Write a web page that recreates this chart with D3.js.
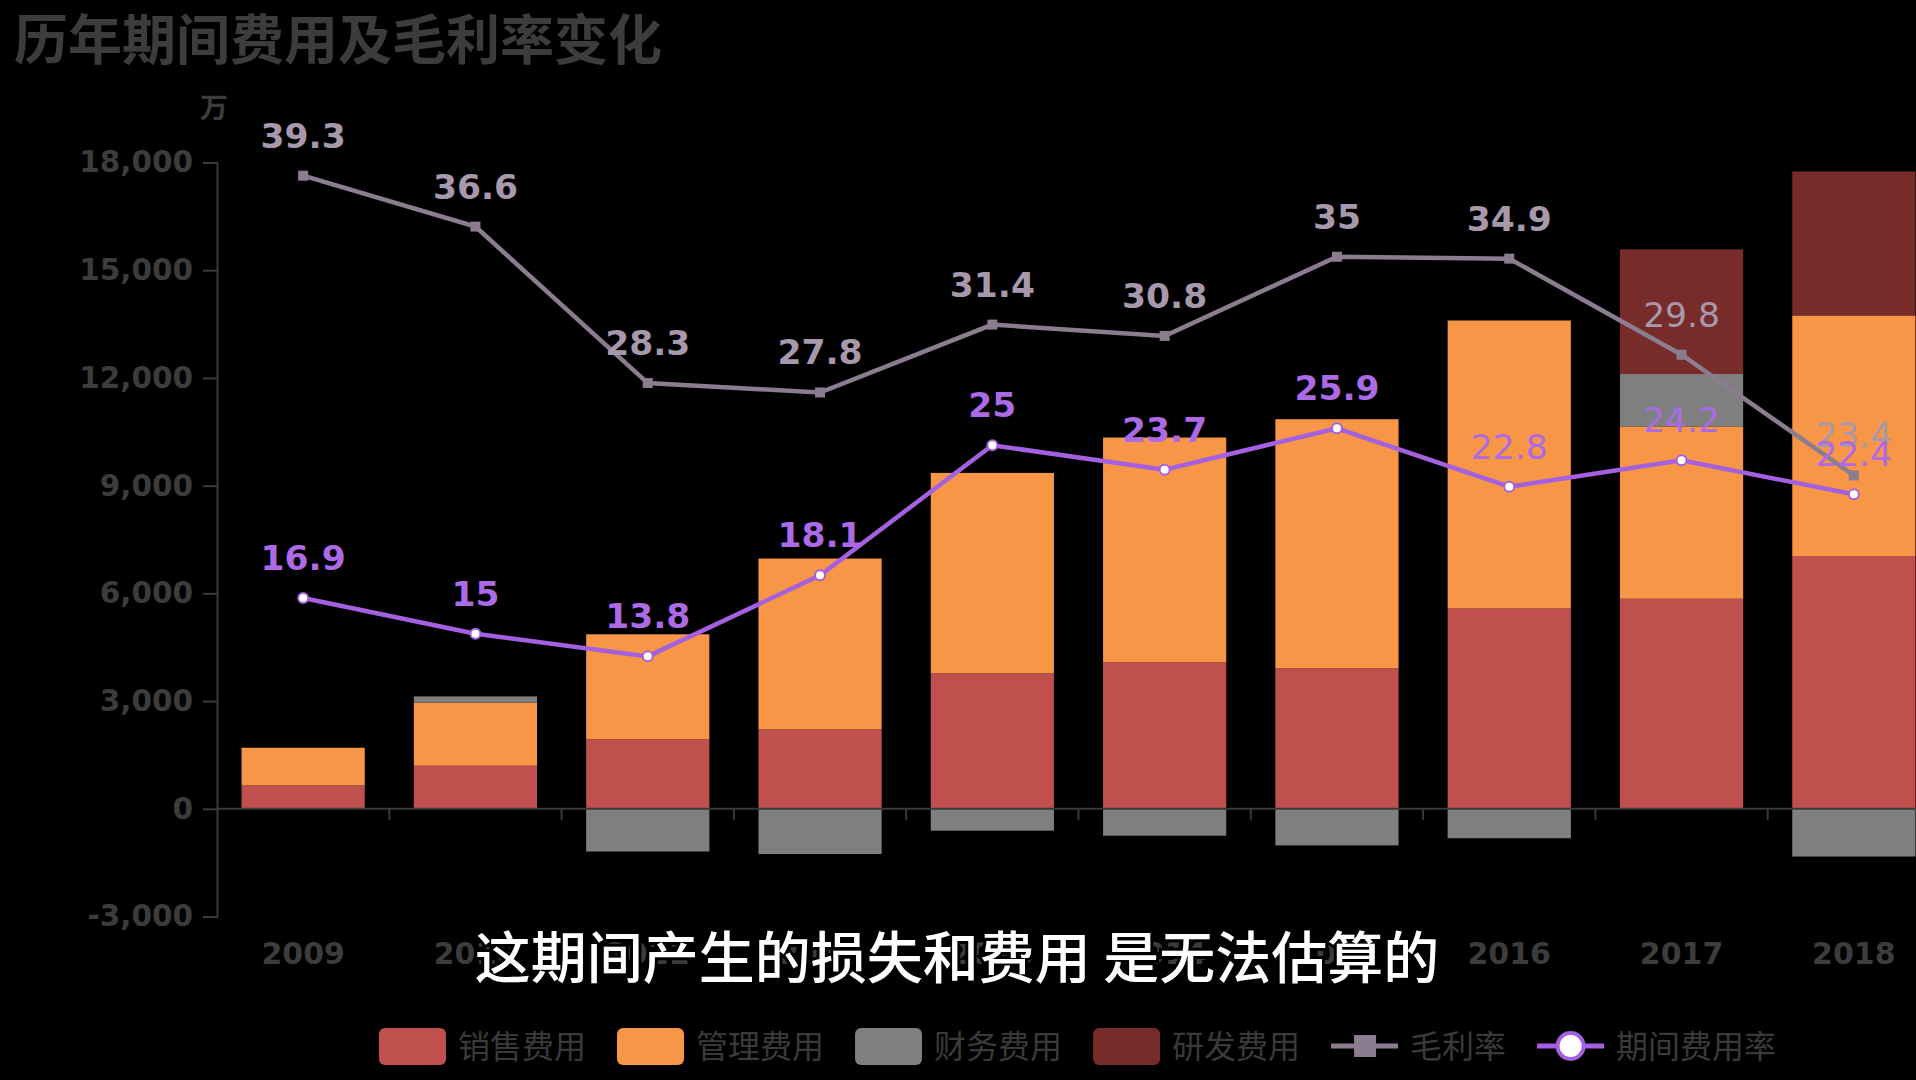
<!DOCTYPE html>
<html>
<head>
<meta charset="utf-8">
<script src="https://cdn.jsdelivr.net/npm/d3@7"></script>
<style>
  html, body { margin: 0; padding: 0; background: #000; }
  svg { display: block; }
</style>
</head>
<body>
<svg id="chart" width="1916" height="1080"></svg>
<script>
const years = ['2009', '2010', '2011', '2012', '2013', '2014', '2015', '2016', '2017', '2018'];
const sales = [650, 1200, 1940, 2210, 3775, 4080, 3910, 5580, 5850, 7040];
const admin = [1050, 1760, 2920, 4760, 5580, 6260, 6940, 8020, 4800, 6700];
const finance = [0, 170, -1190, -1260, -610, -750, -1020, -820, 1460, -1330];
const rnd = [0, 0, 0, 0, 0, 0, 0, 0, 3470, 4010];
const grossMargin = [39.3, 36.6, 28.3, 27.8, 31.4, 30.8, 35, 34.9, 29.8, 23.4];
const expenseRate = [16.9, 15, 13.8, 18.1, 25, 23.7, 25.9, 22.8, 24.2, 22.4];
const yTicks = [-3000, 0, 3000, 6000, 9000, 12000, 15000, 18000];

const barNames = ['销售费用', '管理费用', '财务费用', '研发费用'];
const barColors = ['#c0504d', '#f79646', '#7f7f7f', '#772c2a'];
const marginColor = '#8c7c90';
const rateColor = '#a460e0';

const svg = d3.select('#chart');
const plotLeft = 217, plotTop = 162.5, plotBottom = 916.5;
const step = 172.3;

let x = d3.scaleBand()
    .domain(years)
    .range([plotLeft, plotLeft + step * years.length])
    .paddingInner(0.285)
    .paddingOuter(0.1425);

let y = d3.scaleLinear().domain([-3000, 18000]).range([plotBottom, plotTop]);
let y2 = d3.scaleLinear().domain([0, 40]).range([plotBottom, plotTop]);

// title
svg.append('text')
    .attr('x', 14).attr('y', 60)
    .attr('fill', '#3c3c3c')
    .attr('font-family', 'Noto Sans CJK SC')
    .attr('font-weight', 'bold')
    .attr('font-size', 54)
    .text('历年期间费用及毛利率变化');

svg.append('text')
    .attr('x', 200).attr('y', 118)
    .attr('fill', '#3c3c3c')
    .attr('font-family', 'Noto Sans CJK SC')
    .attr('font-weight', 'bold')
    .attr('font-size', 28)
    .text('万');

// y axis
const fmt = d3.format(',');
let yAxis = svg.append('g')
    .attr('transform', `translate(${plotLeft},0)`)
    .call(d3.axisLeft(y).tickValues(yTicks).tickSize(14).tickPadding(10)
        .tickFormat(d => fmt(d).replace('−', '-')));
yAxis.selectAll('line, path').attr('stroke', '#3a3a3a').attr('stroke-width', 2);
yAxis.selectAll('text')
    .attr('fill', '#3c3c3c')
    .attr('font-family', 'DejaVu Sans')
    .attr('font-weight', 'bold')
    .attr('font-size', 29.5);

// stacked bars
let table = years.map((yr, i) => ({
    year: yr, 0: sales[i], 1: admin[i], 2: finance[i], 3: rnd[i]
}));
let stack = d3.stack().keys([0, 1, 2, 3]).offset(d3.stackOffsetDiverging);
let series = stack(table);

series.forEach((s, k) => {
    svg.append('g').selectAll('rect')
        .data(s)
        .join('rect')
        .attr('x', d => x(d.data.year))
        .attr('width', x.bandwidth())
        .attr('y', d => y(Math.max(d[0], d[1])))
        .attr('height', d => Math.abs(y(d[0]) - y(d[1])))
        .attr('fill', barColors[k]);
});

// x axis at zero
let xAxis = svg.append('g');
xAxis.append('line')
    .attr('x1', plotLeft).attr('x2', 1916)
    .attr('y1', y(0)).attr('y2', y(0))
    .attr('stroke', '#3a3a3a').attr('stroke-width', 2);
xAxis.selectAll('line.tick')
    .data(years.slice(1))
    .join('line')
    .attr('class', 'tick')
    .attr('x1', d => x(d) - x.step() * x.paddingInner() / 2)
    .attr('x2', d => x(d) - x.step() * x.paddingInner() / 2)
    .attr('y1', y(0)).attr('y2', y(0) + 11)
    .attr('stroke', '#3a3a3a').attr('stroke-width', 2);
xAxis.selectAll('text')
    .data(years)
    .join('text')
    .attr('x', d => x(d) + x.bandwidth() / 2)
    .attr('y', 964)
    .attr('text-anchor', 'middle')
    .attr('fill', '#3c3c3c')
    .attr('font-family', 'DejaVu Sans')
    .attr('font-weight', 'bold')
    .attr('font-size', 30)
    .text(d => d);

// lines
const cx = (d, i) => x(years[i]) + x.bandwidth() / 2;

function drawLine(values, color, marker) {
    let line = d3.line().x(cx).y(d => y2(d));
    svg.append('path')
        .datum(values)
        .attr('d', line)
        .attr('fill', 'none')
        .attr('stroke', color)
        .attr('stroke-width', 4.5);
    let g = svg.append('g');
    if (marker === 'square') {
        g.selectAll('rect')
            .data(values)
            .join('rect')
            .attr('x', (d, i) => cx(d, i) - 5)
            .attr('y', d => y2(d) - 5)
            .attr('width', 10).attr('height', 10)
            .attr('fill', color);
    } else {
        g.selectAll('circle')
            .data(values)
            .join('circle')
            .attr('cx', cx)
            .attr('cy', d => y2(d))
            .attr('r', 5)
            .attr('fill', '#fff')
            .attr('stroke', color)
            .attr('stroke-width', 2);
    }
}

drawLine(grossMargin, marginColor, 'square');
drawLine(expenseRate, rateColor, 'circle');

function drawLabels(values, labelColor, thinFrom) {
    svg.append('g').selectAll('text')
        .data(values)
        .join('text')
        .attr('x', cx)
        .attr('y', d => y2(d) - 28)
        .attr('text-anchor', 'middle')
        .attr('fill', labelColor)
        .attr('font-family', 'DejaVu Sans')
        .attr('font-weight', (d, i) => i >= thinFrom ? 'normal' : 'bold')
        .attr('font-size', 34.5)
        .text(d => d);
}
drawLabels(grossMargin, '#a898ab', 8);
drawLabels(expenseRate, '#ac6ae6', 7);

// legend
const legendItems = [
    { name: barNames[0], color: barColors[0], type: 'rect' },
    { name: barNames[1], color: barColors[1], type: 'rect' },
    { name: barNames[2], color: barColors[2], type: 'rect' },
    { name: barNames[3], color: barColors[3], type: 'rect' },
    { name: '毛利率', color: marginColor, type: 'square' },
    { name: '期间费用率', color: rateColor, type: 'circle' }
];
let lx = 379;
const ly = 1046;
legendItems.forEach(item => {
    let g = svg.append('g').attr('transform', `translate(${lx},${ly})`);
    if (item.type === 'rect') {
        g.append('rect')
            .attr('x', 0).attr('y', -18)
            .attr('width', 67).attr('height', 37)
            .attr('rx', 6)
            .attr('fill', item.color);
    } else {
        g.append('line')
            .attr('x1', 0).attr('x2', 67)
            .attr('y1', 0).attr('y2', 0)
            .attr('stroke', item.color).attr('stroke-width', 5);
        if (item.type === 'square') {
            g.append('rect')
                .attr('x', 23).attr('y', -11)
                .attr('width', 22).attr('height', 22)
                .attr('fill', item.color);
        } else {
            g.append('circle')
                .attr('cx', 33.5).attr('cy', 0).attr('r', 13)
                .attr('fill', '#fff')
                .attr('stroke', item.color).attr('stroke-width', 4);
        }
    }
    let t = g.append('text')
        .attr('x', 79).attr('y', 12)
        .attr('fill', '#3a3a3a')
        .attr('font-family', 'Noto Sans CJK SC')
        .attr('font-size', 32)
        .text(item.name);
    lx += 79 + t.node().getComputedTextLength() + 31;
});

// caption overlay
svg.append('text')
    .attr('x', 957).attr('y', 978)
    .attr('text-anchor', 'middle')
    .attr('fill', '#fff')
    .attr('stroke', '#000')
    .attr('stroke-width', 6)
    .attr('paint-order', 'stroke')
    .attr('font-family', 'Noto Sans CJK SC')
    .attr('font-weight', 500)
    .attr('font-size', 56)
    .text('这期间产生的损失和费用 是无法估算的');
</script>
</body>
</html>
